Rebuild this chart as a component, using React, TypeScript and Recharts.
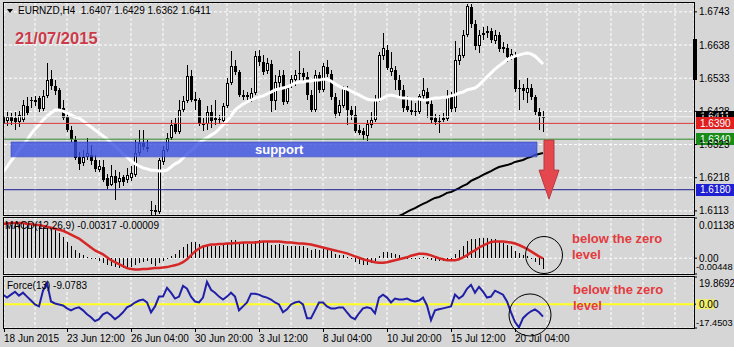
import {
  Bar,
  CartesianGrid,
  ComposedChart,
  Line,
  ReferenceArea,
  ReferenceDot,
  ReferenceLine,
  XAxis,
  YAxis,
} from 'recharts';

// EURNZD H4, bars from 18 Jun 2015 20:00 (index 0) to 21 Jul 2015 08:00 (index 135)
const opens = [
  1.6413, 1.6398, 1.6410, 1.6407, 1.6394, 1.6401, 1.6445, 1.6461, 1.6458, 1.6470,
  1.6436, 1.6477, 1.6530, 1.6508, 1.6496, 1.6439, 1.6410, 1.6369, 1.6337, 1.6284,
  1.6265, 1.6284, 1.6290, 1.6274, 1.6242, 1.6252, 1.6217, 1.6195, 1.6224, 1.6204,
  1.6220, 1.6211, 1.6217, 1.6227, 1.6296, 1.6328, 1.6315, 1.6113, 1.6116, 1.6110,
  1.6268, 1.6306, 1.6344, 1.6388, 1.6363, 1.6432, 1.6461, 1.6540, 1.6467, 1.6464,
  1.6388, 1.6388, 1.6426, 1.6407, 1.6401, 1.6398, 1.6445, 1.6518, 1.6572, 1.6553,
  1.6480, 1.6473, 1.6467, 1.6486, 1.6603, 1.6584, 1.6556, 1.6578, 1.6461, 1.6518,
  1.6543, 1.6458, 1.6508, 1.6527, 1.6546, 1.6549, 1.6537, 1.6480, 1.6432, 1.6543,
  1.6496, 1.6568, 1.6546, 1.6473, 1.6423, 1.6445, 1.6502, 1.6432, 1.6417, 1.6369,
  1.6366, 1.6350, 1.6385, 1.6401, 1.6464, 1.6603, 1.6622, 1.6553, 1.6559, 1.6527,
  1.6496, 1.6445, 1.6432, 1.6426, 1.6426, 1.6477, 1.6489, 1.6451, 1.6407, 1.6398,
  1.6401, 1.6404, 1.6473, 1.6439, 1.6587, 1.6603, 1.6670, 1.6758, 1.6705, 1.6635,
  1.6670, 1.6676, 1.6682, 1.6651, 1.6670, 1.6625, 1.6629, 1.6600, 1.6606, 1.6499,
  1.6502, 1.6486, 1.6502, 1.6473, 1.6426, 1.6407,
];
const highs = [
  1.6432, 1.6426, 1.6423, 1.6426, 1.6429, 1.6464, 1.6473, 1.6473, 1.6477, 1.6477,
  1.6496, 1.6581, 1.6559, 1.6527, 1.6502, 1.6464, 1.6426, 1.6382, 1.6350, 1.6299,
  1.6306, 1.6344, 1.6322, 1.6290, 1.6274, 1.6274, 1.6230, 1.6258, 1.6242, 1.6236,
  1.6227, 1.6249, 1.6255, 1.6337, 1.6369, 1.6369, 1.6337, 1.6144, 1.6132, 1.6280,
  1.6318, 1.6360, 1.6401, 1.6407, 1.6464, 1.6477, 1.6575, 1.6559, 1.6489, 1.6470,
  1.6407, 1.6445, 1.6448, 1.6464, 1.6417, 1.6455, 1.6534, 1.6619, 1.6591, 1.6559,
  1.6496, 1.6489, 1.6502, 1.6619, 1.6622, 1.6606, 1.6597, 1.6591, 1.6543, 1.6559,
  1.6559, 1.6508, 1.6543, 1.6559, 1.6619, 1.6565, 1.6553, 1.6496, 1.6559, 1.6553,
  1.6581, 1.6591, 1.6559, 1.6486, 1.6464, 1.6508, 1.6508, 1.6445, 1.6445, 1.6385,
  1.6375, 1.6401, 1.6426, 1.6480, 1.6616, 1.6676, 1.6638, 1.6616, 1.6572, 1.6543,
  1.6511, 1.6477, 1.6464, 1.6455, 1.6483, 1.6534, 1.6502, 1.6464, 1.6420, 1.6417,
  1.6423, 1.6496, 1.6489, 1.6651, 1.6629, 1.6686, 1.6768, 1.6768, 1.6717, 1.6686,
  1.6695, 1.6698, 1.6692, 1.6686, 1.6679, 1.6648, 1.6641, 1.6625, 1.6616, 1.6527,
  1.6515, 1.6534, 1.6515, 1.6480, 1.6439, 1.6429,
];
const lows = [
  1.6375, 1.6382, 1.6385, 1.6369, 1.6379, 1.6394, 1.6417, 1.6439, 1.6445, 1.6426,
  1.6429, 1.6470, 1.6496, 1.6480, 1.6429, 1.6401, 1.6363, 1.6331, 1.6274, 1.6242,
  1.6255, 1.6274, 1.6258, 1.6236, 1.6236, 1.6204, 1.6182, 1.6192, 1.6148, 1.6185,
  1.6192, 1.6201, 1.6208, 1.6220, 1.6287, 1.6306, 1.6299, 1.6100, 1.6100, 1.6103,
  1.6258, 1.6299, 1.6337, 1.6356, 1.6356, 1.6426, 1.6455, 1.6458, 1.6432, 1.6382,
  1.6366, 1.6369, 1.6375, 1.6385, 1.6388, 1.6394, 1.6439, 1.6511, 1.6543, 1.6473,
  1.6464, 1.6461, 1.6458, 1.6480, 1.6572, 1.6543, 1.6546, 1.6426, 1.6432, 1.6496,
  1.6448, 1.6451, 1.6502, 1.6508, 1.6527, 1.6521, 1.6464, 1.6426, 1.6426, 1.6486,
  1.6489, 1.6537, 1.6464, 1.6407, 1.6413, 1.6439, 1.6385, 1.6401, 1.6360, 1.6353,
  1.6337, 1.6334, 1.6375, 1.6394, 1.6458, 1.6591, 1.6559, 1.6540, 1.6496, 1.6477,
  1.6426, 1.6426, 1.6417, 1.6413, 1.6420, 1.6464, 1.6407, 1.6391, 1.6385, 1.6360,
  1.6394, 1.6398, 1.6426, 1.6426, 1.6575, 1.6597, 1.6663, 1.6692, 1.6622, 1.6613,
  1.6654, 1.6660, 1.6644, 1.6641, 1.6616, 1.6613, 1.6584, 1.6591, 1.6489, 1.6432,
  1.6464, 1.6455, 1.6464, 1.6417, 1.6369, 1.6362,
];
const closes = [
  1.6388, 1.6410, 1.6398, 1.6394, 1.6417, 1.6448, 1.6423, 1.6464, 1.6464, 1.6436,
  1.6477, 1.6527, 1.6508, 1.6492, 1.6436, 1.6407, 1.6369, 1.6341, 1.6280, 1.6262,
  1.6284, 1.6296, 1.6271, 1.6246, 1.6255, 1.6211, 1.6192, 1.6224, 1.6201, 1.6217,
  1.6204, 1.6227, 1.6233, 1.6296, 1.6328, 1.6315, 1.6309, 1.6116, 1.6110, 1.6274,
  1.6306, 1.6344, 1.6385, 1.6363, 1.6432, 1.6461, 1.6540, 1.6464, 1.6461, 1.6388,
  1.6385, 1.6426, 1.6398, 1.6401, 1.6404, 1.6445, 1.6518, 1.6572, 1.6553, 1.6480,
  1.6473, 1.6480, 1.6486, 1.6603, 1.6584, 1.6553, 1.6581, 1.6461, 1.6521, 1.6540,
  1.6458, 1.6502, 1.6530, 1.6543, 1.6549, 1.6537, 1.6480, 1.6432, 1.6543, 1.6496,
  1.6572, 1.6546, 1.6473, 1.6420, 1.6448, 1.6502, 1.6432, 1.6417, 1.6366, 1.6360,
  1.6353, 1.6388, 1.6401, 1.6464, 1.6606, 1.6629, 1.6565, 1.6565, 1.6527, 1.6496,
  1.6439, 1.6432, 1.6426, 1.6429, 1.6477, 1.6496, 1.6451, 1.6401, 1.6394, 1.6394,
  1.6407, 1.6473, 1.6436, 1.6591, 1.6606, 1.6670, 1.6762, 1.6705, 1.6635, 1.6670,
  1.6676, 1.6682, 1.6654, 1.6670, 1.6625, 1.6632, 1.6600, 1.6610, 1.6499, 1.6502,
  1.6492, 1.6502, 1.6473, 1.6426, 1.6410, 1.6411,
];

// white moving average
const maFast = [
  1.6236, 1.6252, 1.6271, 1.6287, 1.6306, 1.6322, 1.6337, 1.6356, 1.6372, 1.6385,
  1.6401, 1.6413, 1.6423, 1.6432, 1.6432, 1.6429, 1.6423, 1.6417, 1.6410, 1.6407,
  1.6398, 1.6388, 1.6379, 1.6369, 1.6360, 1.6350, 1.6341, 1.6328, 1.6318, 1.6306,
  1.6293, 1.6284, 1.6271, 1.6262, 1.6255, 1.6249, 1.6246, 1.6242, 1.6242, 1.6239,
  1.6239, 1.6242, 1.6252, 1.6262, 1.6268, 1.6280, 1.6293, 1.6303, 1.6315, 1.6328,
  1.6337, 1.6344, 1.6353, 1.6360, 1.6372, 1.6385, 1.6398, 1.6413, 1.6432, 1.6442,
  1.6451, 1.6458, 1.6464, 1.6470, 1.6473, 1.6477, 1.6483, 1.6489, 1.6496, 1.6499,
  1.6502, 1.6505, 1.6511, 1.6518, 1.6521, 1.6521, 1.6524, 1.6524, 1.6527, 1.6527,
  1.6530, 1.6530, 1.6524, 1.6515, 1.6508, 1.6502, 1.6499, 1.6492, 1.6486, 1.6480,
  1.6473, 1.6467, 1.6464, 1.6464, 1.6464, 1.6470, 1.6477, 1.6480, 1.6477, 1.6473,
  1.6470, 1.6470, 1.6467, 1.6467, 1.6467, 1.6464, 1.6464, 1.6467, 1.6470, 1.6470,
  1.6473, 1.6473, 1.6477, 1.6480, 1.6486, 1.6489, 1.6496, 1.6499, 1.6502, 1.6511,
  1.6524, 1.6537, 1.6549, 1.6562, 1.6572, 1.6581, 1.6591, 1.6597, 1.6603, 1.6606,
  1.6610, 1.6613, 1.6610, 1.6603, 1.6591, 1.6578,
];

// black moving average, only visible from bar 99
const slowStart = 99;
const maSlow = [
  1.6097, 1.6103, 1.6110, 1.6116, 1.6122, 1.6129, 1.6135, 1.6141, 1.6148, 1.6154,
  1.6157, 1.6163, 1.6170, 1.6173, 1.6179, 1.6185, 1.6192, 1.6198, 1.6208, 1.6214,
  1.6220, 1.6227, 1.6233, 1.6239, 1.6246, 1.6252, 1.6255, 1.6258, 1.6262, 1.6268,
  1.6271, 1.6274, 1.6280, 1.6284, 1.6290, 1.6293, 1.6296,
];

const macdMain = [
  0.00915, 0.00943, 0.00943, 0.00971, 0.00971, 0.00971, 0.00971, 0.00943, 0.00943, 0.00915,
  0.00888, 0.00888, 0.0086, 0.00804, 0.00721, 0.00609, 0.0047, 0.00359, 0.0022, 0.00136,
  0.00081, 0.00025, -0.00003, -0.00031, -0.00086, -0.00142, -0.00198, -0.00225, -0.00253, -0.00281,
  -0.00281, -0.00281, -0.00253, -0.00198, -0.00142, -0.00114, -0.00086, -0.0017, -0.00225, -0.00142,
  -0.00086, -0.00031, 0.00053, 0.00109, 0.0022, 0.00303, 0.00415, 0.0047, 0.0047, 0.00415,
  0.00387, 0.00387, 0.00359, 0.00359, 0.00359, 0.00387, 0.00442, 0.00526, 0.00526, 0.0047,
  0.00442, 0.00415, 0.00415, 0.00498, 0.00526, 0.00498, 0.00498, 0.00387, 0.00387, 0.00415,
  0.00387, 0.00359, 0.00359, 0.00359, 0.00359, 0.00331, 0.00275, 0.0022, 0.00248, 0.0022,
  0.00248, 0.00248, 0.00192, 0.00109, 0.00081, 0.00081, 0.00025, -0.00031, -0.00114, -0.0017,
  -0.00198, -0.00198, -0.00142, -0.00086, 0.00053, 0.00164, 0.00164, 0.00136, 0.00109, 0.00081,
  0.00025, -0.00003, -0.00031, -0.00031, -0.00003, 0.00025, -0.00003, -0.00058, -0.00086, -0.00086,
  -0.00086, -0.00058, -0.00058, 0.00109, 0.0022, 0.00331, 0.00498, 0.00554, 0.00554, 0.00582,
  0.00582, 0.00582, 0.00554, 0.00554, 0.00498, 0.00442, 0.00387, 0.00331, 0.00192, 0.00136,
  0.00081, 0.00053, -0.00003, -0.00114, -0.00198, -0.00317,
];
const macdSignal = [
  0.00971, 0.00985, 0.00999, 0.00999, 0.00999, 0.00999, 0.00971, 0.00971, 0.00943, 0.00943,
  0.00915, 0.00888, 0.0086, 0.00832, 0.00804, 0.00776, 0.00721, 0.00665, 0.00609, 0.00554,
  0.0047, 0.00387, 0.00303, 0.0022, 0.00164, 0.00109, 0.00025, -0.00058, -0.00114, -0.0017,
  -0.00225, -0.00281, -0.00309, -0.00323, -0.00323, -0.00309, -0.00309, -0.00295, -0.00281, -0.00281,
  -0.00267, -0.00253, -0.00225, -0.00198, -0.0017, -0.00114, -0.00031, 0.00081, 0.00192, 0.00275,
  0.00331, 0.00359, 0.00387, 0.00387, 0.00401, 0.00401, 0.00415, 0.00415, 0.00428, 0.00428,
  0.00442, 0.00442, 0.00442, 0.00442, 0.00456, 0.0047, 0.0047, 0.0047, 0.0047, 0.0047,
  0.00456, 0.00442, 0.00442, 0.00428, 0.00415, 0.00415, 0.00401, 0.00387, 0.00359, 0.00331,
  0.00303, 0.00275, 0.00248, 0.0022, 0.00192, 0.00164, 0.00136, 0.00095, 0.00053, 0.00011,
  -0.00031, -0.00058, -0.00086, -0.00114, -0.00128, -0.00128, -0.00114, -0.00086, -0.00058, -0.00031,
  -0.00003, 0.00025, 0.00067, 0.00095, 0.00122, 0.00122, 0.00109, 0.00081, 0.00039, -0.00003,
  -0.00031, -0.00058, -0.00058, -0.00058, -0.00031, 0.00025, 0.00081, 0.00164, 0.0022, 0.00303,
  0.00359, 0.00415, 0.00456, 0.0047, 0.0047, 0.0047, 0.00456, 0.00442, 0.00415, 0.00373,
  0.00317, 0.00262, 0.00192, 0.00122, 0.00053, -0.00009,
];

const forceIndex = [
  6.96, 4.81, 6.96, 9.11, 6.24, 8.4, 5.53, 2.66, -0.22, -1.65,
  9.83, 15.57, 1.94, 0.5, -0.22, -0.93, -3.09, -4.52, -3.09, -2.37,
  -4.52, -7.39, -9.55, -12.42, -10.98, -7.39, -5.96, -8.11, -10.98, -8.83,
  -5.96, -2.37, -0.93, 1.22, 2.66, 3.37, 1.22, -5.96, -1.65, 5.53,
  5.53, 11.99, 8.4, 4.09, 5.53, 13.42, 11.27, 5.53, 1.94, 1.22,
  4.81, 16.29, 10.55, 8.4, 5.53, 3.37, 5.53, 8.4, 5.53, -4.52,
  -1.65, 1.22, 7.68, 7.68, 6.96, 5.53, 4.81, 3.37, 1.22, -0.22,
  -5.96, -3.8, -0.22, 1.22, 1.94, -0.22, -10.26, -10.26, -4.52, 1.22,
  1.22, -1.65, -3.09, -3.09, -2.37, -2.37, -5.96, -9.55, -10.98, -6.67,
  -3.09, -2.37, -3.09, -6.67, 4.81, 6.96, 4.81, 1.22, 4.09, 3.37,
  3.37, 4.09, 2.66, 1.94, 2.66, 4.81, -0.93, -11.7, -4.52, -3.8,
  -3.09, -2.37, -1.65, 6.96, 4.09, 6.24, 11.27, 14.14, 8.4, 12.7,
  9.11, 4.81, 5.53, 9.83, 8.4, 6.96, 1.94, -5.96, -13.13, -17.0,
  -10.26, -7.39, -5.24, -3.8, -5.96, -9.08,
];

const priceTicks = [1.6743, 1.6638, 1.6533, 1.6428, 1.6323, 1.6218, 1.6113];
const levels = [1.6411, 1.639, 1.634, 1.618]; // bid, resistance, support top, target
const support = [1.6284, 1.6331];
const macdTicks = [0.01138, 0, -0.00448];
const macdTickLabels = ['0.01138', '0.00', '-0.00448'];
const forceTicks = [19.8692, 0, -17.4503];
const forceTickLabels = ['19.8692', '0.00', '-17.4503'];

const gridTicks = [8, 16, 24, 32, 40, 48, 56, 64, 72, 80, 88, 96, 104, 112, 120, 128, 136, 144, 152, 160, 168];
const timeTicks = [0.25, 16, 32, 48, 64, 80, 96, 112, 128];
const timeLabels = [
  '18 Jun 2015', '23 Jun 12:00', '26 Jun 04:00', '30 Jun 20:00', '3 Jul 12:00',
  '8 Jul 04:00', '10 Jul 20:00', '15 Jul 12:00', '20 Jul 04:00',
];

const rows = opens.map((open, i) => ({
  i,
  open,
  high: highs[i],
  low: lows[i],
  close: closes[i],
  fast: maFast[i],
  slow: i >= slowStart ? maSlow[i - slowStart] : null,
  macd: macdMain[i],
  signal: macdSignal[i],
  force: forceIndex[i],
}));

const FONT = "'Liberation Sans', Arial, sans-serif";
const BG = '#d6d6d6';
const GRID = '#ffffff';
const X_DOMAIN = [0.25, 172.75];

function Candle(props: any) {
  const { x, y, width, height, payload } = props;
  const { open, high, low, close } = payload;
  const yTop = Math.min(y, y + height);
  const h = Math.abs(height);
  const k = h / (high - low || 1e-9);
  const yAt = (v: number) => Math.round(yTop + (high - v) * k);
  const cx = Math.round(x + width / 2);
  const top = yAt(Math.max(open, close));
  const bot = yAt(Math.min(open, close));
  const hi = yAt(high);
  const lo = yAt(low);
  return (
    <g>
      <rect x={cx} y={hi} width={1} height={Math.max(1, lo - hi)} fill="#000" />
      {close > open && bot - top > 1 ? (
        <rect x={cx - 0.5} y={top + 0.5} width={2} height={bot - top - 1} fill="#fff" stroke="#000" strokeWidth={1} />
      ) : (
        <rect x={cx - 1} y={top} width={3} height={Math.max(1, bot - top)} fill="#000" />
      )}
    </g>
  );
}

function Stick(props: any) {
  const { x, y, width, height } = props;
  const cx = Math.round(x + width / 2);
  const y0 = Math.round(Math.min(y, y + height));
  const y1 = Math.round(Math.max(y, y + height));
  return <rect x={cx} y={y0} width={1} height={Math.max(1, y1 - y0)} fill="#000" />;
}

function Arrow(props: any) {
  const { cx, cy } = props;
  const pts = [
    [cx - 5, cy], [cx + 5, cy], [cx + 5, cy + 30], [cx + 10, cy + 30],
    [cx, cy + 59], [cx - 10, cy + 30], [cx - 5, cy + 30],
  ].map((p) => p.join(',')).join(' ');
  return <polygon points={pts} fill="#e4484e" stroke="#b53a3e" strokeWidth={1} />;
}

const priceTick = (p: any) => (
  <text x={p.x} y={p.y + 3.6} fontSize={10} fontFamily={FONT} fill="#000">
    {Number(p.payload.value).toFixed(4)}
  </text>
);

const sideTick = (ticks: number[], labels: string[], dys: number[], zeroBg?: string) => (p: any) => {
  const k = ticks.indexOf(p.payload.value);
  if (k < 0) return <g />;
  const neg = labels[k].startsWith('-');
  return (
    <g>
      {zeroBg && k === 1 ? <rect x={p.x - 3} y={p.y - 5} width={19} height={10} fill={zeroBg} /> : null}
      <text
        x={neg ? p.x - 3 : p.x}
        y={p.y + dys[k]}
        fontSize={neg ? 9.3 : 10}
        fontFamily={FONT}
        fill="#000"
      >
        {labels[k]}
      </text>
    </g>
  );
};

const timeTick = (p: any) => {
  const k = timeTicks.indexOf(p.payload.value);
  if (k < 0) return <g />;
  return (
    <g>
      <rect x={Math.round(p.x)} y={p.y - 4} width={1} height={3} fill="#000" />
      <text x={p.x} y={p.y + 8.6} fontSize={10} fontFamily={FONT} fill="#000">
        {timeLabels[k]}
      </text>
    </g>
  );
};

const priceBox = (fill: string, value: number) => (p: any) => {
  const vb = p.viewBox || {};
  const x = vb.x + vb.width + 2;
  const y = vb.y;
  return (
    <g>
      <rect x={x} y={Math.round(y) - 6} width={38} height={12} fill={fill} />
      <text x={x + 4} y={y + 3.6} fontSize={10} fontFamily={FONT} fill="#fff">
        {value.toFixed(4)}
      </text>
    </g>
  );
};

const panelBorder = (top: number, inner: number) => (
  <div
    style={{
      position: 'absolute',
      left: 3,
      top,
      width: 690,
      height: inner,
      border: '1px solid #000',
      pointerEvents: 'none',
    }}
  />
);

const redNote = (left: number, top: number) => (
  <div
    style={{
      position: 'absolute',
      left,
      top,
      color: '#e33b3e',
      fontSize: 13,
      fontWeight: 700,
      lineHeight: '16px',
      whiteSpace: 'nowrap',
    }}
  >
    below the zero
    <br />
    level
  </div>
);

export default function App() {
  return (
    <div
      style={{
        position: 'absolute',
        left: 0,
        top: 0,
        width: 734,
        height: 347,
        background: BG,
        overflow: 'hidden',
        fontFamily: FONT,
      }}
    >
      <div style={{ position: 'absolute', left: 0, top: 0 }}>
        <ComposedChart width={734} height={216} data={rows} margin={{ top: 3, right: 0, bottom: 1, left: 4 }}>
          <CartesianGrid stroke={GRID} strokeDasharray="3 2" />
          <XAxis dataKey="i" type="number" domain={X_DOMAIN} ticks={gridTicks} hide allowDataOverflow />
          <YAxis
            orientation="right"
            width={40}
            domain={[1.61, 1.6771]}
            ticks={priceTicks}
            allowDataOverflow
            interval={0}
            axisLine={false}
            tickSize={3}
            tickLine={{ stroke: '#000' }}
            tick={priceTick}
          />
          <Bar dataKey={(d: any) => [d.low, d.high]} barSize={3} shape={Candle} isAnimationActive={false} />
          <Line dataKey="fast" stroke="#ffffff" strokeWidth={3} dot={false} isAnimationActive={false} />
          <Line dataKey="slow" stroke="#000000" strokeWidth={2} dot={false} isAnimationActive={false} />
          <ReferenceLine y={levels[0]} stroke="#f2f2f2" label={priceBox('#000000', levels[0])} />
          <ReferenceLine y={levels[1]} stroke="#e0383c" label={priceBox('#e01e1e', levels[1])} />
          <ReferenceLine y={levels[2]} stroke="#2e8a2e" label={priceBox('#178c17', levels[2])} />
          <ReferenceLine y={levels[3]} stroke="#1c1c90" label={priceBox('#1e1ed2', levels[3])} />
          <ReferenceArea
            x1={2}
            x2={133.5}
            y1={support[0]}
            y2={support[1]}
            fill="#3a50e0"
            fillOpacity={0.8}
            stroke="#3445c0"
            strokeOpacity={0.6}
            zIndex={450}
            label={{
              value: 'support',
              position: 'insideLeft',
              offset: 244,
              fill: '#ffffff',
              fontSize: 13,
              fontWeight: 700,
              fontFamily: FONT,
            }}
          />
          <ReferenceDot x={136.5} y={1.6337} r={1} shape={Arrow} zIndex={460} />
        </ComposedChart>
      </div>

      <div style={{ position: 'absolute', left: 0, top: 216 }}>
        <ComposedChart width={734} height={59} data={rows} margin={{ top: 2, right: 0, bottom: 1, left: 4 }}>
          <CartesianGrid stroke={GRID} strokeDasharray="3 2" />
          <XAxis dataKey="i" type="number" domain={X_DOMAIN} ticks={gridTicks} hide allowDataOverflow />
          <YAxis
            orientation="right"
            width={40}
            domain={[-0.00448, 0.01138]}
            ticks={macdTicks}
            allowDataOverflow
            interval={0}
            axisLine={false}
            tickSize={3}
            tickLine={{ stroke: '#000' }}
            tick={sideTick(macdTicks, macdTickLabels, [10.6, 3.6, -4])}
          />
          <Bar dataKey="macd" barSize={1} shape={Stick} fill="#000" isAnimationActive={false} />
          <Line dataKey="signal" stroke="#d62626" strokeWidth={2.5} dot={false} isAnimationActive={false} />
          <ReferenceDot x={135.25} y={0.0009} r={18.5} fill="none" stroke="#000" strokeWidth={1} />
        </ComposedChart>
      </div>

      <div style={{ position: 'absolute', left: 0, top: 275 }}>
        <ComposedChart width={734} height={72} data={rows} margin={{ top: 2, right: 0, bottom: 0, left: 4 }}>
          <CartesianGrid stroke={GRID} strokeDasharray="3 2" />
          <XAxis
            dataKey="i"
            type="number"
            domain={X_DOMAIN}
            ticks={[0.25, ...gridTicks]}
            allowDataOverflow
            height={19}
            interval={0}
            axisLine={false}
            tickLine={false}
            tickSize={3}
            tick={timeTick}
          />
          <YAxis
            orientation="right"
            width={40}
            domain={[-17.4503, 19.8692]}
            ticks={forceTicks}
            allowDataOverflow
            interval={0}
            axisLine={false}
            tickSize={3}
            tickLine={{ stroke: '#000' }}
            tick={sideTick(forceTicks, forceTickLabels, [9.6, 3.6, -2.5], '#eeee70')}
          />
          <ReferenceLine y={0} stroke="#ffff20" strokeWidth={2} />
          <Line dataKey="force" stroke="#2020a6" strokeWidth={2} dot={false} isAnimationActive={false} />
          <ReferenceDot x={131.75} y={-7.9} r={21} fill="none" stroke="#000" strokeWidth={1} />
        </ComposedChart>
      </div>

      {panelBorder(2, 212)}
      {panelBorder(217, 56)}
      {panelBorder(276, 51)}

      <div style={{ position: 'absolute', left: 693, top: 39, width: 4, height: 41, background: '#000' }} />

      <div
        style={{
          position: 'absolute',
          left: 7,
          top: 9,
          width: 0,
          height: 0,
          borderLeft: '3px solid transparent',
          borderRight: '3px solid transparent',
          borderTop: '4px solid #000',
        }}
      />
      <div style={{ position: 'absolute', left: 18, top: 5, fontSize: 10, lineHeight: '12px', whiteSpace: 'pre', color: '#000' }}>
        {'EURNZD,H4  1.6407 1.6429 1.6362 1.6411'}
      </div>
      <div
        style={{
          position: 'absolute',
          left: 15,
          top: 28,
          fontSize: 16.5,
          fontWeight: 700,
          lineHeight: '20px',
          color: '#cc3a4a',
          textShadow: '1px 1px 0 #f0f0f0',
          whiteSpace: 'nowrap',
        }}
      >
        21/07/2015
      </div>
      <div style={{ position: 'absolute', left: 5, top: 220, fontSize: 10, lineHeight: '12px', whiteSpace: 'pre', color: '#000' }}>
        {'MACD(12,26,9) -0.00317 -0.00009'}
      </div>
      <div style={{ position: 'absolute', left: 7, top: 280, fontSize: 10, lineHeight: '12px', whiteSpace: 'pre', color: '#000' }}>
        {'Force(13) -9.0783'}
      </div>
      {redNote(572, 231)}
      {redNote(573, 282)}
    </div>
  );
}
